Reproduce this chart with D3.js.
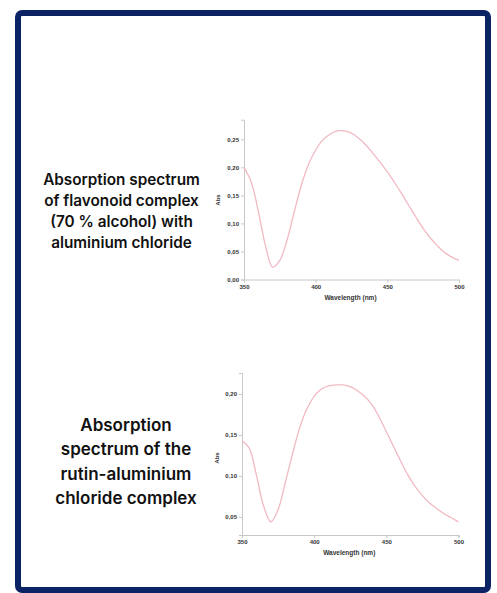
<!DOCTYPE html>
<html>
<head>
<meta charset="utf-8">
<script src="https://d3js.org/d3.v7.min.js"></script>
<style>
  body { margin: 0; background: #fff; }
</style>
</head>
<body>
<script>
// wavelengths sampled every 5 nm
const wavelengths = [350,355,360,365,370,375,380,385,390,395,400,405,410,415,420,425,430,435,440,445,450,455,460,465,470,475,480,485,490,495,500];
// flavonoid complex (70 % alcohol) + AlCl3
const absFlavonoid = [0.200,0.174,0.122,0.060,0.022,0.034,0.070,0.120,0.168,0.205,0.231,0.249,0.259,0.265,0.265,0.261,0.252,0.240,0.225,0.209,0.192,0.173,0.153,0.132,0.111,0.091,0.074,0.060,0.048,0.040,0.034];
// rutin-AlCl3 complex
const absRutin = [0.143,0.134,0.101,0.063,0.044,0.059,0.092,0.127,0.159,0.182,0.197,0.206,0.210,0.211,0.211,0.209,0.204,0.197,0.187,0.172,0.154,0.136,0.118,0.101,0.087,0.076,0.067,0.060,0.054,0.049,0.044];
const xTicks = [350,400,450,500];
const yTicks1 = [0,0.05,0.10,0.15,0.20,0.25];
const yTicks2 = [0.05,0.10,0.15,0.20];
const title1 = ["Absorption spectrum","of flavonoid complex","(70 % alcohol) with","aluminium chloride"];
const title2 = ["Absorption","spectrum of the","rutin-aluminium","chloride complex"];

const svg = d3.select("body").append("svg").attr("width",497).attr("height",593);

svg.append("rect")
    .attr("x",18).attr("y",13).attr("width",470).attr("height",577)
    .attr("rx",4)
    .attr("fill","#fff").attr("stroke","#0b2364").attr("stroke-width",6);

const fmt = d => d3.format(".2f")(d).replace(".",",");

function drawChart(cfg) {
    let x = d3.scaleLinear().domain([350,500]).range([cfg.x0,cfg.x1]);
    let y = d3.scaleLinear().domain(cfg.yDomain).range([cfg.yBottom,cfg.yTop]);
    let g = svg.append("g");

    let bottomAxis = d3.axisBottom(x).tickValues(xTicks).tickSize(3).tickPadding(2).tickFormat(d3.format("d"));
    let ax = g.append("g").attr("transform","translate(0,"+cfg.yBottom+")").call(bottomAxis);
    let leftAxis = d3.axisLeft(y).tickValues(cfg.yTicks).tickSize(3).tickPadding(2).tickFormat(fmt);
    let ay = g.append("g").attr("transform","translate("+cfg.x0+",0)").call(leftAxis);
    [ax,ay].forEach(a => {
        a.select(".domain").attr("stroke","#c8c8c8");
        a.selectAll(".tick line").attr("stroke","#c8c8c8");
        a.selectAll("text").attr("fill","#333").attr("font-size","6px")
            .attr("font-weight","bold").attr("font-family","Liberation Sans, Arial, sans-serif");
    });

    g.append("path")
        .datum(wavelengths.map((w,i) => [w,cfg.values[i]]))
        .attr("fill","none")
        .attr("stroke","#f1b9c2")
        .attr("stroke-width",1.3)
        .attr("d", d3.line().x(d => x(d[0])).y(d => y(d[1])).curve(d3.curveCatmullRom.alpha(0.5)));

    g.append("text")
        .attr("x",(cfg.x0+cfg.x1)/2 - 1).attr("y",cfg.yBottom+20)
        .attr("text-anchor","middle").attr("font-size","6.5px").attr("font-weight","bold")
        .attr("fill","#333").attr("font-family","Liberation Sans, Arial, sans-serif")
        .text("Wavelength (nm)");
    g.append("text")
        .attr("transform","translate("+cfg.absX+","+cfg.absY+") rotate(-90)")
        .attr("text-anchor","middle").attr("font-size","6px").attr("font-weight","bold")
        .attr("fill","#333").attr("font-family","Liberation Sans, Arial, sans-serif")
        .text("Abs");

    let t = g.append("text")
        .attr("text-anchor","middle").attr("fill","#111")
        .attr("font-family","Inter, sans-serif").attr("font-weight",600)
        .attr("font-size",cfg.titleSize+"px");
    cfg.title.forEach((line,i) => {
        t.append("tspan").attr("x",cfg.titleX).attr("y",cfg.titleY + i*cfg.titleGap).text(line);
    });
}

drawChart({
    values: absFlavonoid, yTicks: yTicks1,
    x0: 244, x1: 459, yDomain: [0,0.285], yBottom: 279.5, yTop: 119.7,
    absX: 220, absY: 200,
    title: title1, titleX: 121.5, titleY: 184.5, titleGap: 21.3, titleSize: 15.3
});

drawChart({
    values: absRutin, yTicks: yTicks2,
    x0: 242, x1: 458.5, yDomain: [0.028,0.2256], yBottom: 535, yTop: 373,
    absX: 219, absY: 458,
    title: title2, titleX: 126, titleY: 431, titleGap: 24.4, titleSize: 17
});
</script>
</body>
</html>
